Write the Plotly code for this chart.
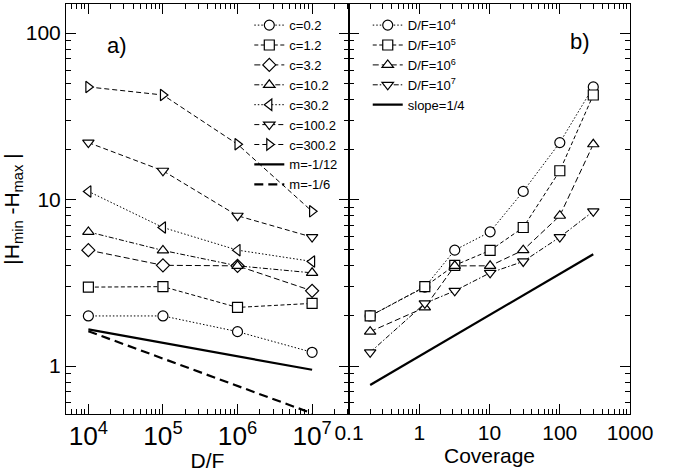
import plotly.graph_objects as go

# Deposition ratio D/F and coverage values
df_values = [1e4, 1e5, 1e6, 1e7]
coverage = [0.2, 1.2, 3.2, 10.2, 30.2, 100.2, 300.2]

# |H_min - H_max| for each coverage, across D/F = 1e4..1e7
h_c0_2 = [2.0, 2.0, 1.61, 1.21]
h_c1_2 = [2.98, 3.0, 2.25, 2.38]
h_c3_2 = [4.97, 4.03, 4.0, 2.83]
h_c10_2 = [6.4, 4.95, 4.0, 3.63]
h_c30_2 = [11.2, 6.8, 4.97, 4.25]
h_c100_2 = [22.0, 14.9, 8.0, 5.95]
h_c300_2 = [47.5, 42.5, 21.5, 8.5]

# Reference power laws
guide_df = [1e4, 1e7]
guide_m12 = [1.66, 0.95]
guide_m6 = [1.62, 0.52]
guide_cov = [0.2, 300.2]
guide_slope4 = [0.77, 4.7]

series_c = [
    ("c=0.2", h_c0_2, "circle", "1.5px,2px"),
    ("c=1.2", h_c1_2, "square", "4px,2.5px"),
    ("c=3.2", h_c3_2, "diamond", "6px,3px"),
    ("c=10.2", h_c10_2, "triangle-up", "5px,2px,1.5px,2px"),
    ("c=30.2", h_c30_2, "triangle-left", "1.5px,2px"),
    ("c=100.2", h_c100_2, "triangle-down", "5px,3px"),
    ("c=300.2", h_c300_2, "triangle-right", "5px,3px"),
]

matrix = [s[1] for s in series_c]
series_df = [
    ("D/F=10<sup>4</sup>", 0, "circle", "1.5px,2px"),
    ("D/F=10<sup>5</sup>", 1, "square", "4px,2.5px"),
    ("D/F=10<sup>6</sup>", 2, "triangle-up", "6px,3px"),
    ("D/F=10<sup>7</sup>", 3, "triangle-down", "5px,2px,1.5px,2px"),
]

fig = go.Figure()

marker_base = dict(size=10, color="white", line=dict(color="black", width=1.2))

for name, ys, sym, dash in series_c:
    fig.add_trace(go.Scatter(
        x=df_values, y=ys, name=name, mode="lines+markers",
        line=dict(color="black", width=1, dash=dash),
        marker=dict(symbol=sym, **marker_base),
        xaxis="x", yaxis="y", legend="legend",
    ))

fig.add_trace(go.Scatter(x=guide_df, y=guide_m12, name="m=-1/12", mode="lines",
                         line=dict(color="black", width=2.2),
                         xaxis="x", yaxis="y", legend="legend"))
fig.add_trace(go.Scatter(x=guide_df, y=guide_m6, name="m=-1/6", mode="lines",
                         line=dict(color="black", width=2.2, dash="9px,5px"),
                         xaxis="x", yaxis="y", legend="legend"))

for name, j, sym, dash in series_df:
    ys = [row[j] for row in matrix]
    fig.add_trace(go.Scatter(
        x=coverage, y=ys, name=name, mode="lines+markers",
        line=dict(color="black", width=1, dash=dash),
        marker=dict(symbol=sym, **marker_base),
        xaxis="x2", yaxis="y2", legend="legend2",
    ))

fig.add_trace(go.Scatter(x=guide_cov, y=guide_slope4, name="slope=1/4", mode="lines",
                         line=dict(color="black", width=2.2),
                         xaxis="x2", yaxis="y2", legend="legend2"))

font = "Liberation Sans, Arial, Helvetica, sans-serif"
split = 0.5018

# Grid lines stay white on the white plot background
axis_common = dict(
    showline=True, linecolor="black", gridcolor="white",
    mirror="allticks", ticks="inside", ticklen=10, tickcolor="black",
    minor=dict(ticks="inside", ticklen=5, tickcolor="black"),
    tickfont=dict(family=font, size=21, color="black"),
)

fig.update_layout(
    width=681, height=472,
    margin=dict(l=66, r=51, t=4, b=58),
    paper_bgcolor="white", plot_bgcolor="white",
    font=dict(family=font, color="black"),
    xaxis=dict(type="log", domain=[0, split], range=[3.70, 7.495], dtick=1,
               exponentformat="power", anchor="y",
               title=dict(text="D/F", font=dict(size=21), standoff=2), **axis_common),
    xaxis2=dict(type="log", domain=[split, 1], range=[-1, 3], dtick=1,
                exponentformat="none", anchor="y2",
                title=dict(text="Coverage", font=dict(size=21), standoff=2), **axis_common),
    yaxis=dict(type="log", domain=[0, 1], range=[-0.288, 2.175], dtick=1,
               exponentformat="none", anchor="x",
               title=dict(text="|H<sub>min</sub> -H<sub>max</sub> |", font=dict(size=21), standoff=0),
               **axis_common),
    yaxis2=dict(type="log", domain=[0, 1], range=[-0.288, 2.175], dtick=1,
                showticklabels=False, anchor="x2", matches="y", **axis_common),
    legend=dict(x=0.325, y=0.985, xanchor="left", yanchor="top", bgcolor="rgba(0,0,0,0)",
                font=dict(family=font, size=13), tracegroupgap=0),
    legend2=dict(x=0.535, y=0.985, xanchor="left", yanchor="top", bgcolor="rgba(0,0,0,0)",
                 font=dict(family=font, size=13), tracegroupgap=0),
    annotations=[
        dict(text="a)", x=0.07, y=0.935, xref="paper", yref="paper", showarrow=False,
             font=dict(family=font, size=22)),
        dict(text="b)", x=0.932, y=0.945, xref="paper", yref="paper", showarrow=False,
             font=dict(family=font, size=22)),
    ],
    showlegend=True,
)

fig.write_html("out.html")
